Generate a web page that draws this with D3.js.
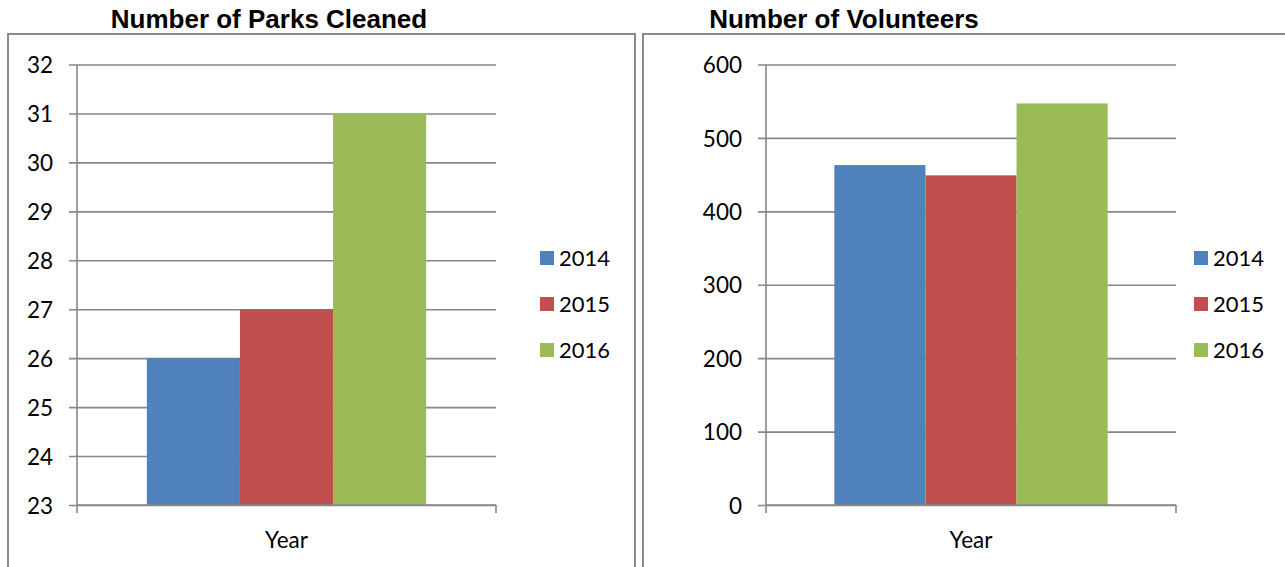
<!DOCTYPE html>
<html>
<head>
<meta charset="utf-8">
<script src="https://cdn.jsdelivr.net/npm/d3@7"></script>
<style>
  body { margin: 0; background: #fff; }
  svg { display: block; }
</style>
</head>
<body>
<div id="chart"></div>
<script>
(function () {
    "use strict";

    // data
    var seriesNames = ["2014", "2015", "2016"];
    var seriesColors = ["#4F81BD", "#C0504D", "#9BBB59"];
    var categories = ["Year"];
    var parksValues = [26, 27, 31];
    var volunteerValues = [463, 449, 547];
    var parksTicks = [23, 24, 25, 26, 27, 28, 29, 30, 31, 32];
    var volunteerTicks = [0, 100, 200, 300, 400, 500, 600];

    var width = 1285, height = 567;
    var gridColor = "#878787";
    var numFont = "Lato, 'Open Sans', sans-serif";

    var svg = d3.select("#chart").append("svg")
        .attr("width", width)
        .attr("height", height);

    //each panel: frame, title, plot box, legend
    var panels = [
        {
            title: "Number of Parks Cleaned", titleX: 269,
            frameX: 8, frameW: 627,
            left: 77, right: 496,
            domain: [23, 32], ticks: parksTicks, values: parksValues,
            legendX: 540
        },
        {
            title: "Number of Volunteers", titleX: 844,
            frameX: 643, frameW: 700,
            left: 766, right: 1176,
            domain: [0, 600], ticks: volunteerTicks, values: volunteerValues,
            legendX: 1194
        }
    ];

    var top = 64.5, bottom = 505;

    panels.forEach(function (p) {
        var g = svg.append("g");

        //panel frame
        g.append("rect")
            .attr("x", p.frameX)
            .attr("y", 34)
            .attr("width", p.frameW)
            .attr("height", 600)
            .attr("fill", "none")
            .attr("stroke", "#8a8a8a")
            .attr("stroke-width", 2);

        //title
        g.append("text")
            .attr("x", p.titleX)
            .attr("y", 28)
            .attr("text-anchor", "middle")
            .style("font-family", "'Liberation Sans', Arial, sans-serif")
            .style("font-weight", "bold")
            .style("font-size", "26px")
            .text(p.title);

        var y = d3.scaleLinear().domain(p.domain).range([bottom, top]);
        var x0 = d3.scaleBand().domain(categories)
            .range([p.left, p.right])
            .paddingInner(0).paddingOuter(0.25);
        var x1 = d3.scaleBand().domain(seriesNames)
            .range([0, x0.bandwidth()]);

        //gridlines + labels
        var axis = d3.axisLeft(y)
            .tickValues(p.ticks)
            .tickSizeInner(-(p.right - p.left + 8))
            .tickSizeOuter(0)
            .tickPadding(16);
        var ag = g.append("g")
            .attr("transform", "translate(" + (p.left - 8) + ",0)")
            .call(axis);
        ag.select(".domain").remove();
        ag.selectAll(".tick line")
            .attr("stroke", gridColor)
            .attr("stroke-width", 1.6);
        ag.selectAll(".tick text")
            .attr("fill", "#000")
            .attr("dy", "0.36em")
            .style("font-family", numFont)
            .style("font-size", "22.5px");

        //bars
        g.append("g").selectAll("rect")
            .data(p.values)
            .enter().append("rect")
            .attr("x", function (d, i) { return x0("Year") + x1(seriesNames[i]); })
            .attr("y", function (d) { return y(d); })
            .attr("width", x1.bandwidth())
            .attr("height", function (d) { return bottom - y(d); })
            .attr("fill", function (d, i) { return seriesColors[i]; });

        //axis lines
        g.append("line")
            .attr("x1", p.left).attr("x2", p.left)
            .attr("y1", top).attr("y2", bottom + 8)
            .attr("stroke", gridColor).attr("stroke-width", 1.6);
        g.append("line")
            .attr("x1", p.left).attr("x2", p.right)
            .attr("y1", bottom).attr("y2", bottom)
            .attr("stroke", gridColor).attr("stroke-width", 1.6);
        g.append("line")
            .attr("x1", p.right).attr("x2", p.right)
            .attr("y1", bottom).attr("y2", bottom + 8)
            .attr("stroke", gridColor).attr("stroke-width", 1.6);

        //category label
        g.append("text")
            .attr("x", (p.left + p.right) / 2)
            .attr("y", 540)
            .attr("dy", "0.36em")
            .attr("text-anchor", "middle")
            .style("font-family", numFont)
            .style("font-size", "22.5px")
            .text(categories[0]);

        //legend
        var lg = g.append("g").selectAll("g")
            .data(seriesNames)
            .enter().append("g")
            .attr("transform", function (d, i) {
                return "translate(" + p.legendX + "," + (258 + i * 46) + ")";
            });
        lg.append("rect")
            .attr("x", 0).attr("y", -7)
            .attr("width", 14).attr("height", 14)
            .attr("fill", function (d, i) { return seriesColors[i]; });
        lg.append("text")
            .attr("x", 19)
            .attr("dy", "0.36em")
            .style("font-family", numFont)
            .style("font-size", "22px")
            .text(function (d) { return d; });
    });
})();
</script>
</body>
</html>
